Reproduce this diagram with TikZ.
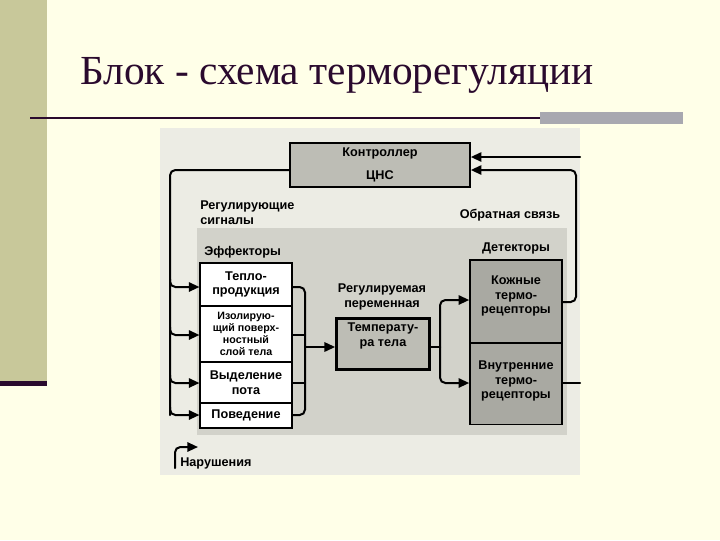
\documentclass[tikz,border=0pt]{standalone}
\usepackage{fontspec}
\setmainfont{Liberation Serif}
\newfontfamily\dg{Liberation Sans}
\usetikzlibrary{arrows.meta}
\definecolor{bgy}{HTML}{FFFFE8}
\definecolor{olive}{HTML}{C8C89A}
\definecolor{darkp}{HTML}{2A0A2E}
\definecolor{greyb}{HTML}{A8A8B0}
\definecolor{paper}{HTML}{ECECE4}
\definecolor{shadeg}{HTML}{D2D2CA}
\definecolor{boxg}{HTML}{BDBDB5}
\definecolor{detg}{HTML}{A9A9A2}
\begin{document}
\begin{tikzpicture}[x=0.75pt,y=-0.75pt,
 lbl/.style={font=\dg\bfseries\fontsize{9.5}{11}\selectfont,align=center,inner sep=0pt},
 cell/.style={draw,line width=0.8pt,minimum width=69pt,fill=white},
 ln/.style={line width=1.5pt,line cap=round,rounded corners=4pt},
 ar/.style={ln,-{Triangle[length=8pt,width=7pt]}}]
\useasboundingbox (0,0) rectangle (720,540);
\fill[bgy] (0,0) rectangle (720,540);
\fill[olive] (0,0) rectangle (47,383);
\fill[darkp] (0,381) rectangle (47,386);
\node[font=\fontsize{31}{36}\selectfont,text=darkp,anchor=base west,inner sep=0pt] (title) at (80,84) {Блок - схема терморегуляции};
\draw[darkp,line width=2pt] (30,118) -- (540,118);
\fill[greyb] (540,112) rectangle (683,124);
% diagram
\fill[paper] (160,128) rectangle (580,475);
\fill[shadeg] (197,228) rectangle (567,435);
\node[draw,line width=1.2pt,fill=boxg,minimum width=135pt,minimum height=33pt,inner sep=0pt] (cns) at (380,165) {};
\node[lbl] (cnst) at (380,165) {Контроллер\\[6pt]ЦНС};
\node[lbl,anchor=west,align=left] (rs) at (200,213) {Регулирующие\\сигналы};
\node[lbl,anchor=west] (eff) at (204,252) {Эффекторы};
\node[lbl] (det) at (516,248) {Детекторы};
\node[lbl] (os) at (510,215) {Обратная связь};
% effector cells
\node[cell,minimum height=32.25pt] (e1) at (246,284.5) {};
\node[cell,minimum height=42pt] (e2) at (246,334) {};
\node[cell,minimum height=30.75pt] (e3) at (246,382.5) {};
\node[cell,minimum height=18.75pt] (e4) at (246,415.5) {};
\node[lbl] at (e1) {Тепло-\\продукция};
\node[lbl,font=\dg\bfseries\fontsize{8}{9}\selectfont] at (e2) {Изолирую-\\щий поверх-\\ностный\\слой тела};
\node[lbl] at (e3) {Выделение\\пота};
\node[lbl] at (e4) {Поведение};
% temperature
\node[lbl] (rp) at (382,297) {Регулируемая\\переменная};
\node[draw,line width=1.8pt,fill=boxg,minimum width=70pt,minimum height=38pt] (temp) at (383,344) {};
\node[lbl,anchor=north] at (383,323) {Температу-\\ра тела};
% detectors
\node[draw,line width=1.2pt,fill=detg,minimum width=69pt,minimum height=62pt] (d1) at (516,301.5) {};
\node[draw,line width=1.2pt,fill=detg,minimum width=69pt,minimum height=61pt] (d2) at (516,384) {};
\node[lbl] at (516,296) {Кожные\\термо-\\рецепторы};
\node[lbl] at (516,381) {Внутренние\\термо-\\рецепторы};
% control signals
\coordinate (m) at (305,347);
\draw[ln] (cns.west|-0,170) -- (170,170) -- (170,415);
\foreach \y in {287,335,383,415}{\draw[ar] (170,\y-8) -- (170,\y) -- (e1.west|-0,\y);}
\draw[ln] (e1.east|-0,287) -- (305,287) -- (305,415) -- (e4.east|-0,415);
\draw[ln] (e2.east|-0,335) -- (305,335);
\draw[ln] (e3.east|-0,383) -- (305,383);
\draw[ar,rounded corners=0pt] (m) -- (temp.west|-m);
\draw[ln] (temp.east|-m) -- (440,347);
\draw[ar] (440,347) -- (440,300) -- (d1.west|-0,300);
\draw[ar] (440,347) -- (440,383) -- (d2.west|-0,383);
\draw[ar] (d1.east|-0,302) -- (576,302) -- (576,170) -- (cns.east|-0,170);
\draw[ln,rounded corners=0pt] (d2.east|-0,383) -- (580,383);
\draw[ar,rounded corners=0pt] (580,157) -- (cns.east|-0,157);
% disturbance
\draw[ar] (175,468) -- (175,447) -- (198,447);
\node[lbl,anchor=west] (nar) at (180,463) {Нарушения};
\end{tikzpicture}
\end{document}
